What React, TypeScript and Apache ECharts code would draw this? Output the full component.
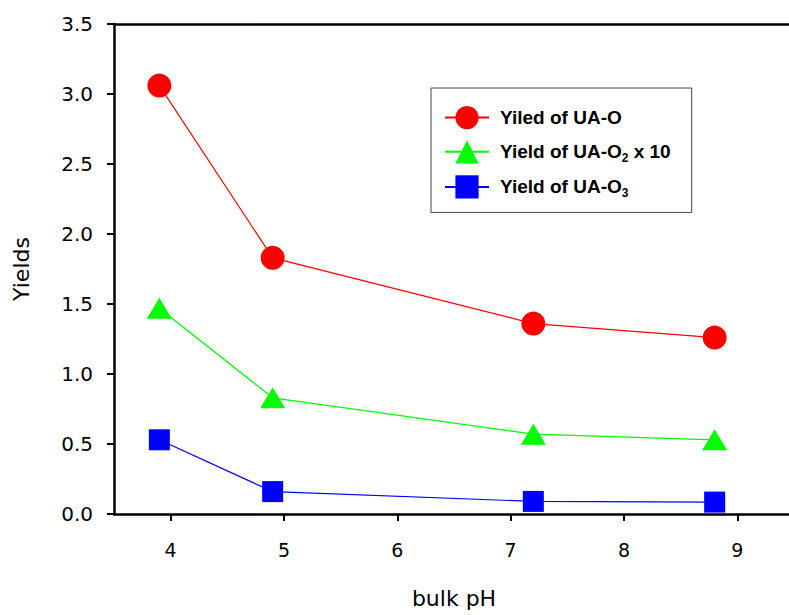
import React, { useEffect, useRef } from "react";
import * as echarts from "echarts";

const pH = [3.9, 4.9, 7.2, 8.8];
const yieldO = [3.06, 1.83, 1.36, 1.26];
const yieldO2x10 = [1.47, 0.83, 0.57, 0.53];
const yieldO3 = [0.53, 0.16, 0.09, 0.085];
const xTicks = [4, 5, 6, 7, 8, 9];
const seriesNames = ["Yiled of UA-O", "Yield of UA-O2 x 10", "Yield of UA-O3"];
const legendLabels: Record<string, string> = {
  "Yiled of UA-O": "Yiled of UA-O",
  "Yield of UA-O2 x 10": "Yield of UA-O{s|2} x 10",
  "Yield of UA-O3": "Yield of UA-O{s|3}",
};

const pairs = (ys: number[]) => pH.map((x, i) => [x, ys[i]]);

export default function App() {
  const ref = useRef<HTMLDivElement>(null);
  useEffect(() => {
    if (!ref.current) return;
    const chart = echarts.init(ref.current, null, { renderer: "svg" });
    const font = "DejaVu Sans";
    const axisLine = { lineStyle: { color: "#000", width: 2.5 } };
    chart.setOption({
      animation: false,
      backgroundColor: "#fff",
      grid: { left: 114, width: 680, top: 24, bottom: 101, outerBoundsMode: "none", containLabel: false },
      xAxis: [
        {
          type: "value",
          min: 3.5,
          max: 9.5,
          position: "bottom",
          name: "bulk pH",
          nameLocation: "middle",
          nameGap: 73,
          nameTextStyle: { fontFamily: font, fontSize: 22, color: "#000" },
          axisLine: { ...axisLine, onZero: false },
          axisTick: { show: true, length: 7, inside: false, customValues: xTicks, lineStyle: { color: "#000", width: 2 } },
          axisLabel: { customValues: xTicks, fontFamily: font, fontSize: 19, color: "#000", margin: 26 },
          splitLine: { show: false },
        },
        {
          type: "value",
          min: 3.5,
          max: 9.5,
          position: "top",
          axisLine: { ...axisLine, onZero: false },
          axisTick: { show: false },
          axisLabel: { show: false },
          splitLine: { show: false },
        },
      ],
      yAxis: {
        type: "value",
        min: 0,
        max: 3.5,
        interval: 0.5,
        name: "Yields",
        nameLocation: "middle",
        nameGap: 82,
        nameTextStyle: { fontFamily: font, fontSize: 22, color: "#000" },
        axisLine: { ...axisLine, onZero: false },
        axisTick: { show: true, length: 7, lineStyle: { color: "#000", width: 2 } },
        axisLabel: {
          fontFamily: font,
          fontSize: 20,
          color: "#000",
          margin: 21,
          formatter: (v: number) => v.toFixed(1),
        },
        splitLine: { show: false },
      },
      legend: {
        orient: "vertical",
        left: 431,
        top: 88,
        padding: [18, 21, 13, 13],
        itemGap: 11,
        itemWidth: 44,
        itemHeight: 29,
        borderColor: "#444",
        borderWidth: 1,
        data: seriesNames,
        formatter: (name: string) => legendLabels[name],
        textStyle: {
          fontFamily: "Liberation Sans",
          fontWeight: "bold",
          fontSize: 19,
          color: "#000",
          padding: [0, 0, 0, 6],
          rich: {
            s: {
              fontFamily: "Liberation Sans",
              fontWeight: "bold",
              fontSize: 12,
              color: "#000",
              padding: [13, 0, 0, 0],
            },
          },
        },
      },
      series: [
        {
          name: seriesNames[0],
          type: "line",
          data: pairs(yieldO),
          symbol: "circle",
          symbolSize: 24,
          itemStyle: { color: "#ff0000" },
          lineStyle: { color: "#ff0000", width: 1.2 },
        },
        {
          name: seriesNames[1],
          type: "line",
          data: pairs(yieldO2x10),
          symbol: "triangle",
          symbolSize: [25, 21],
          itemStyle: { color: "#00ff00" },
          lineStyle: { color: "#00ff00", width: 1.2 },
        },
        {
          name: seriesNames[2],
          type: "line",
          data: pairs(yieldO3),
          symbol: "rect",
          symbolSize: 21,
          itemStyle: { color: "#0000ff" },
          lineStyle: { color: "#0000ff", width: 1.2 },
        },
      ],
    });
    return () => chart.dispose();
  }, []);
  return <div ref={ref} style={{ width: 789, height: 615, position: "absolute", left: 0, top: 0 }} />;
}
